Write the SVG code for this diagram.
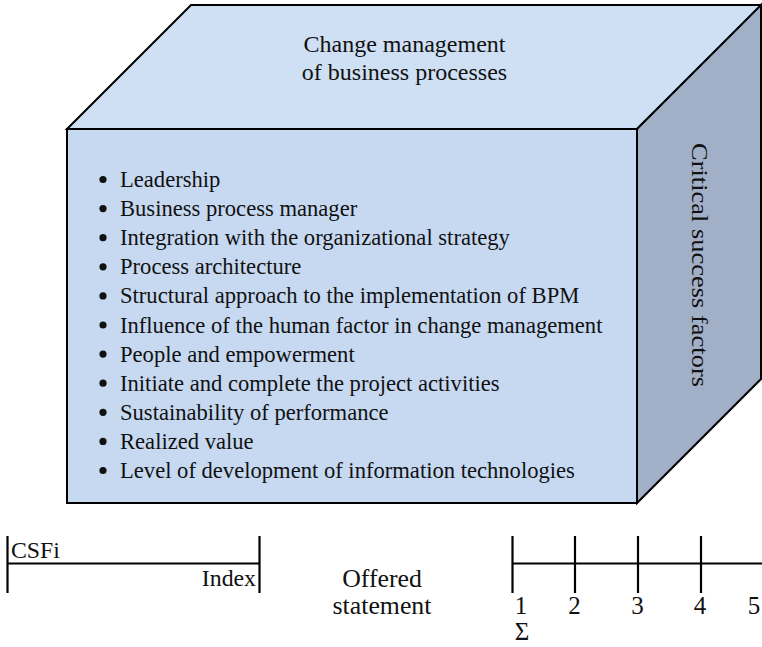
<svg xmlns="http://www.w3.org/2000/svg" width="762" height="647" viewBox="0 0 762 647">
<style>
.t{font-family:"Liberation Serif","Times New Roman",serif;fill:#111}
.face{stroke:#000;stroke-width:2;stroke-linejoin:miter}
.ln{stroke:#000;stroke-width:2.2;fill:none}
.li{font-size:22.6px}
.b{fill:#111}
</style>
<rect width="762" height="647" fill="#fff"/>
<g id="cube">
  <polygon class="face" points="67,129 191,5 762,5 637,129" fill="#CFDFF4"/>
  <polygon class="face" points="637,129 761,5 761,379 637,503" fill="#A1B0C7"/>
  <rect class="face" x="67" y="129" width="570" height="374" fill="#C6D9F1"/>
  <g id="top-label">
    <text class="t" x="404.5" y="52" font-size="24" text-anchor="middle">Change management</text>
    <text class="t" x="404.5" y="80" font-size="24" text-anchor="middle">of business processes</text>
  </g>
  <g id="side-label">
    <text class="t" transform="translate(692,143) rotate(90)" font-size="23" textLength="244" lengthAdjust="spacingAndGlyphs">Critical success factors</text>
  </g>
  <g id="factor-list">
    <circle class="b" cx="103" cy="179.5" r="3.6"/>
    <circle class="b" cx="103" cy="208.6" r="3.6"/>
    <circle class="b" cx="103" cy="237.7" r="3.6"/>
    <circle class="b" cx="103" cy="266.8" r="3.6"/>
    <circle class="b" cx="103" cy="295.9" r="3.6"/>
    <circle class="b" cx="103" cy="325" r="3.6"/>
    <circle class="b" cx="103" cy="354.1" r="3.6"/>
    <circle class="b" cx="103" cy="383.2" r="3.6"/>
    <circle class="b" cx="103" cy="412.3" r="3.6"/>
    <circle class="b" cx="103" cy="441.4" r="3.6"/>
    <circle class="b" cx="103" cy="470.5" r="3.6"/>
    <text class="t li" x="120" y="187">Leadership</text>
    <text class="t li" x="120" y="216.1">Business process manager</text>
    <text class="t li" x="120" y="245.2">Integration with the organizational strategy</text>
    <text class="t li" x="120" y="274.3">Process architecture</text>
    <text class="t li" x="120" y="303.4">Structural approach to the implementation of BPM</text>
    <text class="t li" x="120" y="332.5">Influence of the human factor in change management</text>
    <text class="t li" x="120" y="361.6">People and empowerment</text>
    <text class="t li" x="120" y="390.7">Initiate and complete the project activities</text>
    <text class="t li" x="120" y="419.8">Sustainability of performance</text>
    <text class="t li" x="120" y="448.9">Realized value</text>
    <text class="t li" x="120" y="478">Level of development of information technologies</text>
  </g>
</g>
<g id="connectors">
  <line class="ln" x1="7.5" y1="536" x2="7.5" y2="593"/>
  <line class="ln" x1="259.5" y1="536" x2="259.5" y2="593"/>
  <line class="ln" x1="7.5" y1="563.5" x2="259.5" y2="563.5"/>
  <line class="ln" x1="512.5" y1="536" x2="512.5" y2="593"/>
  <line class="ln" x1="575" y1="536" x2="575" y2="593"/>
  <line class="ln" x1="638" y1="536" x2="638" y2="593"/>
  <line class="ln" x1="701" y1="536" x2="701" y2="593"/>
  <line class="ln" x1="512.5" y1="563.5" x2="762" y2="563.5"/>
</g>
<g id="csfi-index">
  <text class="t" x="11" y="557.5" font-size="23.8">CSFi</text>
  <text class="t" x="256" y="586" font-size="23.8" text-anchor="end">Index</text>
</g>
<g id="offered-statement">
  <text class="t" x="382" y="587" font-size="25.8" text-anchor="middle">Offered</text>
  <text class="t" x="382" y="613.5" font-size="25.8" text-anchor="middle">statement</text>
</g>
<g id="scale">
  <text class="t" x="521" y="613.5" font-size="25" text-anchor="middle">1</text>
  <text class="t" x="574.5" y="613.5" font-size="25" text-anchor="middle">2</text>
  <text class="t" x="637.5" y="613.5" font-size="25" text-anchor="middle">3</text>
  <text class="t" x="700" y="613.5" font-size="25" text-anchor="middle">4</text>
  <text class="t" x="754" y="613.5" font-size="25" text-anchor="middle">5</text>
  <text class="t" x="522" y="640" font-size="25" text-anchor="middle">Σ</text>
</g>
</svg>
